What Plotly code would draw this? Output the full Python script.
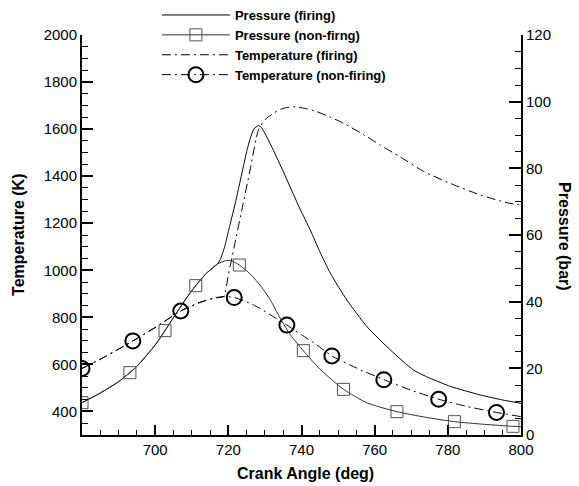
import plotly.graph_objects as go

# ---- Pressure (bar) vs crank angle (deg) ----
crank_p_fire = [680, 685, 690, 695, 700, 705, 710, 714, 717, 717.8, 719, 720, 721, 722,
                723, 724, 725, 726, 727, 728.2, 729, 730, 731.4, 734.2, 736.9, 739.6,
                742.4, 745, 747.9, 752.4, 757.9, 764.3, 770.6, 775.2, 780.7, 788.9, 795, 800]
p_firing = [9.7, 12.6, 16.0, 20.6, 27.0, 35.2, 43.3, 48.5, 51.3, 52.6, 56.5, 61.0, 65.5, 70.0,
            75.0, 80.0, 85.0, 89.0, 91.8, 92.8, 92.3, 90.5, 87.5, 81.0, 74.4, 67.8,
            61.5, 55.0, 48.5, 40.5, 32.5, 25.5, 19.5, 17.0, 14.6, 12.0, 10.5, 9.5]

crank_p_motor = [680, 685, 690, 693.1, 695, 700, 702.7, 705, 708, 711.1, 714, 717, 719.6,
                 721, 723, 726, 729, 731.5, 734.2, 737, 740.5, 745, 751.5, 758, 766.1,
                 774, 781.8, 790, 797.8, 800]
p_nonfiring = [9.7, 12.6, 16.0, 18.7, 20.6, 27.0, 31.3, 35.2, 40.3, 44.8, 48.5, 51.3, 52.4,
               52.2, 51.0, 48.3, 44.5, 40.5, 35.0, 30.0, 25.3, 19.8, 13.7, 9.6, 7.0,
               5.3, 4.0, 3.2, 2.6, 2.5]
crank_p_marks = [680, 693.1, 702.7, 711.1, 723.0, 740.5, 751.5, 766.1, 781.8, 797.8]
p_nonfiring_marks = [9.7, 18.7, 31.3, 44.8, 51.0, 25.3, 13.7, 7.0, 4.0, 2.6]

# ---- Temperature (K) vs crank angle (deg) ----
crank_t_fire = [680, 685, 690, 693.9, 700, 707, 712, 716, 718.7, 720, 722, 724, 726, 728.2,
                730, 732.3, 735, 737.8, 741, 744.2, 748, 751.5, 757.9, 761.5, 767, 773.4,
                780.7, 788.9, 796.2, 800]
t_firing = [583, 622, 665, 700, 757, 827, 862, 882, 888, 980, 1130, 1280, 1430, 1596,
            1640, 1667, 1688, 1695, 1688, 1674, 1650, 1625, 1568, 1532, 1482, 1420,
            1369, 1320, 1287, 1277]

crank_t_motor = [680, 685, 690, 693.9, 700, 707, 712, 716, 719, 721.6, 725, 728.7, 732,
                 736, 740, 744, 748.3, 755, 762.5, 770, 777.5, 785, 793.3, 800]
t_nonfiring = [583, 622, 665, 700, 757, 827, 862, 882, 889, 884, 866, 838, 806,
               767, 726, 685, 636, 585, 535, 490, 452, 422, 396, 378]
crank_t_marks = [680, 693.9, 707, 721.6, 736, 748.3, 762.5, 777.5, 793.3]
t_nonfiring_marks = [583, 700, 827, 884, 767, 636, 535, 452, 396]

x_ticks = [700, 720, 740, 760, 780, 800]

FONT = "Liberation Sans, Arial, sans-serif"
DASHDOT = "9px,4px,2px,4px"
GREY = "#505050"

fig = go.Figure()

# curves
fig.add_trace(go.Scatter(x=crank_p_fire, y=p_firing, yaxis="y2", mode="lines",
                         line=dict(color="black", width=1, shape="spline", smoothing=0.6),
                         showlegend=False, hoverinfo="skip"))
fig.add_trace(go.Scatter(x=crank_p_motor, y=p_nonfiring, yaxis="y2", mode="lines",
                         line=dict(color="#303030", width=1, shape="spline", smoothing=0.6),
                         showlegend=False, hoverinfo="skip"))
fig.add_trace(go.Scatter(x=crank_t_fire, y=t_firing, mode="lines",
                         line=dict(color="black", width=1, dash=DASHDOT, shape="spline", smoothing=0.6),
                         showlegend=False, hoverinfo="skip"))
fig.add_trace(go.Scatter(x=crank_t_motor, y=t_nonfiring, mode="lines",
                         line=dict(color="black", width=1, dash=DASHDOT, shape="spline", smoothing=0.6),
                         showlegend=False, hoverinfo="skip"))

# symbols
fig.add_trace(go.Scatter(x=crank_p_marks, y=p_nonfiring_marks, yaxis="y2", mode="markers",
                         marker=dict(symbol="square-open", size=12, color=GREY, line=dict(width=1, color=GREY)),
                         showlegend=False, hoverinfo="skip"))
fig.add_trace(go.Scatter(x=crank_t_marks, y=t_nonfiring_marks, mode="markers",
                         marker=dict(symbol="circle-open", size=15, color="black", line=dict(width=2, color="black")),
                         showlegend=False, hoverinfo="skip"))

# legend entries
fig.add_trace(go.Scatter(x=[None], y=[None], mode="lines", name="Pressure (firing)",
                         line=dict(color="black", width=1)))
fig.add_trace(go.Scatter(x=[None], y=[None], mode="lines+markers", name="Pressure (non-firng)",
                         line=dict(color="#303030", width=1),
                         marker=dict(symbol="square-open", size=12, color=GREY, line=dict(width=1, color=GREY))))
fig.add_trace(go.Scatter(x=[None], y=[None], mode="lines", name="Temperature (firing)",
                         line=dict(color="black", width=1, dash=DASHDOT)))
fig.add_trace(go.Scatter(x=[None], y=[None], mode="lines+markers", name="Temperature (non-firing)",
                         line=dict(color="black", width=1, dash=DASHDOT),
                         marker=dict(symbol="circle-open", size=15, color="black", line=dict(width=2, color="black"))))

axis_common = dict(
    showgrid=False, zeroline=False, showline=True, linecolor="black", linewidth=2,
    ticks="inside", tickcolor="black", tickwidth=2,
    tickfont=dict(family=FONT, size=15, color="black"),
)

fig.update_layout(
    width=579, height=486,
    margin=dict(l=82, r=58, t=35, b=51, pad=0, autoexpand=False),
    paper_bgcolor="white", plot_bgcolor="white",
    font=dict(family=FONT, color="black"),
    xaxis=dict(range=[680, 800], tickvals=x_ticks, ticklen=10,
               minor=dict(dtick=5, tick0=680, ticklen=5, tickwidth=1, tickcolor="black", ticks="inside"),
               **axis_common),
    yaxis=dict(range=[300, 2000], tick0=0, dtick=200, ticklen=11,
               minor=dict(dtick=50, tick0=0, ticklen=6, tickwidth=1, tickcolor="black", ticks="inside"),
               **axis_common),
    yaxis2=dict(range=[0, 120], tick0=0, dtick=20, ticklen=12, overlaying="y", side="right",
                minor=dict(dtick=5, tick0=0, ticklen=6, tickwidth=1, tickcolor="black", ticks="inside"),
                **axis_common),
    legend=dict(xref="container", yref="container", x=0.271, y=1.025,
                xanchor="left", yanchor="top", bgcolor="rgba(0,0,0,0)",
                font=dict(family=FONT, size=13, color="black", weight="bold"),
                itemwidth=68, tracegroupgap=0),
    annotations=[
        dict(text="<b>Crank Angle (deg)</b>", x=0.51, y=-0.095, xref="paper", yref="paper",
             showarrow=False, font=dict(family=FONT, size=16, color="black"),
             xanchor="center", yanchor="middle"),
        dict(text="<b>Temperature (K)</b>", x=-0.146, y=0.5, xref="paper", yref="paper",
             textangle=-90, showarrow=False, font=dict(family=FONT, size=16, color="black"),
             xanchor="center", yanchor="middle"),
        dict(text="<b>Pressure (bar)</b>", x=1.10, y=0.495, xref="paper", yref="paper",
             textangle=90, showarrow=False, font=dict(family=FONT, size=16, color="black"),
             xanchor="center", yanchor="middle"),
    ],
)

fig.write_html("out.html")
